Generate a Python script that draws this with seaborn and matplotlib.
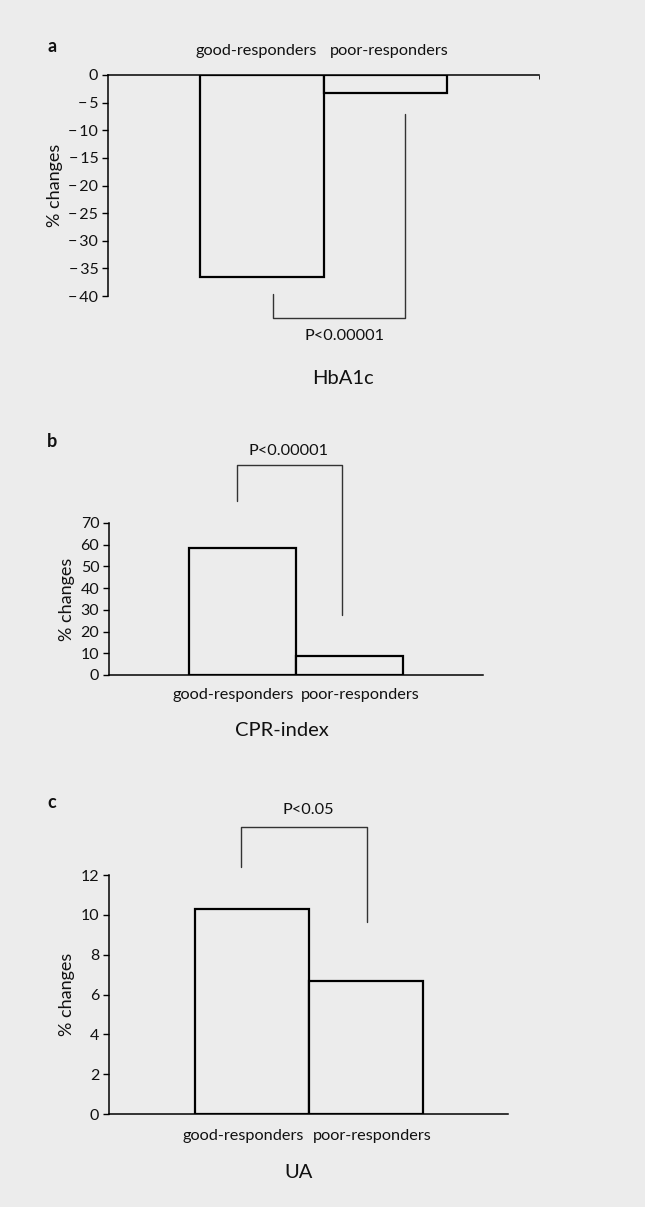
import matplotlib
matplotlib.use('Agg')
import matplotlib.pyplot as plt
import seaborn as sns
from matplotlib.ticker import FixedLocator

groups = ['good-responders', 'poor-responders']
hba1c = [-36.6, -3.3]
cpr_index = [58.5, 8.8]
ua = [10.3, 6.7]

# where the group names sit (category units), slightly spread apart like the original
hba1c_label_pos = [-0.045, 1.03]
cpr_label_pos = [-0.089, 1.098]
ua_label_pos = [-0.074, 1.06]

# significance brackets (x in category units, y in data units)
hba1c_bx = [0.09, 0.09, 1.16, 1.16]
hba1c_by = [-39.6, -44.0, -44.0, -7.1]
cpr_bx = [-0.05, -0.05, 0.93, 0.93]
cpr_by = [80.0, 96.7, 96.7, 27.6]
ua_bx = [-0.09, -0.09, 1.01, 1.01]
ua_by = [12.4, 14.4, 14.4, 9.65]

BG = '#ececec'
INK = '#111111'
W, H = 645, 1207

sns.set_style('white')
plt.rcParams['font.family'] = ['Lato', 'DejaVu Sans']

fig = plt.figure(figsize=(W / 100, H / 100), dpi=100, facecolor=BG)


def px_axes(left, top, right, bottom):
    return fig.add_axes([left / W, 1 - bottom / H, (right - left) / W, (bottom - top) / H])


def tick_text(v):
    return f'\u2212\u2009{abs(v)}' if v < 0 else f'{v}'


def draw_panel(ax, values, ylim, yticks, top_axis, label_pos, bx, by, label_x, pad):
    ax.set_facecolor(BG)
    sns.barplot(x=groups, y=values, ax=ax, width=1, color=BG, saturation=1,
                edgecolor='black', linewidth=1.6)
    ax.set_xlim(-1.25, 2.25)
    ax.set_ylim(*ylim)
    ax.set_yticks(list(yticks), [tick_text(v) for v in yticks])
    ax.set_xticks(label_pos, groups)
    for side in ['top', 'bottom', 'left', 'right']:
        ax.spines[side].set_visible(False)
    axis_side = 'top' if top_axis else 'bottom'
    for side in ['left', axis_side]:
        ax.spines[side].set_visible(True)
        ax.spines[side].set_color('black')
        ax.spines[side].set_linewidth(1.1)
    if top_axis:
        ax.xaxis.tick_top()
    ax.tick_params(axis='x', which='major', length=0, pad=pad, labelsize=11.7, colors=INK)
    ax.xaxis.set_minor_locator(FixedLocator([2.25]))
    ax.tick_params(axis='x', which='minor', length=3, direction='in', color='black')
    ax.tick_params(axis='y', length=4, width=1, direction='out', color='black',
                   labelsize=11.5, labelcolor=INK, left=True, pad=3)
    ax.set_xlabel('')
    ax.set_ylabel('% changes', fontsize=13, color=INK)
    ax.yaxis.set_label_coords(label_x, 0.5)
    ax.plot(bx, by, color='#333333', lw=1.0, clip_on=False)


ax_a = px_axes(108, 75, 539, 296)
draw_panel(ax_a, hba1c, (-40, 0), range(-40, 1, 5), True, hba1c_label_pos,
           hba1c_bx, hba1c_by, -0.104, 12)

ax_b = px_axes(109, 523, 483, 675)
draw_panel(ax_b, cpr_index, (0, 70), range(0, 71, 10), False, cpr_label_pos,
           cpr_bx, cpr_by, -0.091, 9)

ax_c = px_axes(109, 875, 508, 1114)
draw_panel(ax_c, ua, (0, 12), range(0, 13, 2), False, ua_label_pos,
           ua_bx, ua_by, -0.085, 11)


def ftext(x, y, s, **kw):
    fig.text(x / W, 1 - y / H, s, ha='center', va='center', color=INK, **kw)


ftext(52, 47, 'a', fontsize=13, fontweight='bold')
ftext(345, 336, 'P<0.00001', fontsize=11.7)
ftext(343, 378, 'HbA1c', fontsize=14.5)

ftext(52, 441, 'b', fontsize=13, fontweight='bold')
ftext(288, 451, 'P<0.00001', fontsize=11.7)
ftext(282, 730, 'CPR-index', fontsize=14.5)

ftext(52, 803, 'c', fontsize=13, fontweight='bold')
ftext(308, 810, 'P<0.05', fontsize=11.7)
ftext(299, 1172, 'UA', fontsize=14.5)

fig.savefig('out.png', dpi=100, facecolor=BG)
plt.close(fig)
